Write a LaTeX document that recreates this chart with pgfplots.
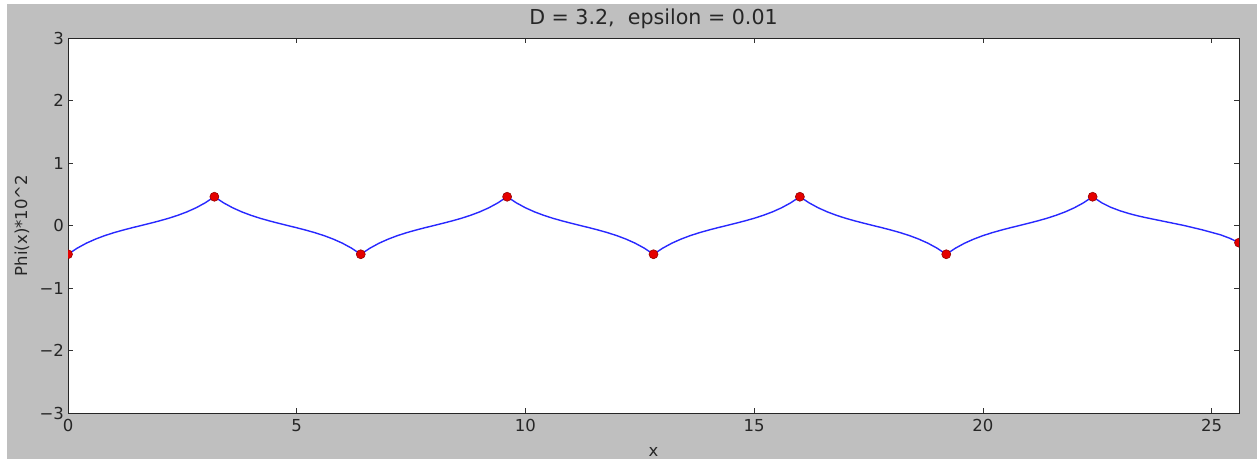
\documentclass[border=0pt]{standalone}
\usepackage{fontspec}
\setmainfont{DejaVu Sans}
\usepackage{pgfplots}
\pgfplotsset{compat=1.18}
\definecolor{figgray}{RGB}{191,191,191}
\definecolor{mplblue}{RGB}{40,40,255}
\definecolor{dotedge}{RGB}{150,0,0}
\begin{document}
\begin{tikzpicture}
\path[use as bounding box] (0,0) rectangle (1257bp,461bp);
\fill[figgray] (7bp,2bp) rectangle (1257bp,457bp);
\begin{axis}[
  at={(68bp,48bp)}, anchor=south west,
  scale only axis, width=1171bp, height=375bp,
  xmin=0, xmax=25.6, ymin=-3, ymax=3,
  clip marker paths=true,
  axis background/.style={fill=white},
  axis line style={line width=1bp, black!85},
  every tick/.style={black!80, line width=0.7bp},
  major tick length=5bp,
  tick align=inside,
  xtick={0,5,10,15,20,25},
  xticklabels={0,5,10,15,20,25},
  ytick={-3,-2,-1,0,1,2,3},
  yticklabels={−3,−2,−1,0,1,2,3},
  ticklabel style={font=\fontsize{16.5bp}{19bp}\selectfont, text=black!85},
  xticklabel style={yshift=-3bp},
  yticklabel style={xshift=-0.5bp},
  title={D = 3.2,\ \ epsilon = 0.01},
  title style={font=\fontsize{20.6bp}{24bp}\selectfont, text=black!85, at={(axis description cs:0.5,1.0213)}, anchor=base},
  xlabel={x},
  xlabel style={font=\fontsize{16.5bp}{19bp}\selectfont, text=black!85, at={(axis description cs:0.5,-0.1173)}, anchor=base},
  ylabel={Phi(x)*10\^{}2},
  ylabel style={font=\fontsize{16.5bp}{19bp}\selectfont, text=black!85, at={(axis description cs:-0.0393,0.5)}, anchor=center},
]
\addplot[mplblue, line width=1.4bp, no marks] coordinates {
(0,-0.46)(0.2,-0.363)(0.4,-0.2835)(0.6,-0.2179)(0.8,-0.1628)(1,-0.1156)(1.2,-0.0741)(1.4,-0.0362)(1.6,0)(1.8,0.0362)(2,0.0741)(2.2,0.1156)(2.4,0.1628)(2.6,0.2179)(2.8,0.2835)(3,0.363)(3.2,0.46)
(3.4,0.363)(3.6,0.2835)(3.8,0.2179)(4,0.1628)(4.2,0.1156)(4.4,0.0741)(4.6,0.0362)(4.8,0)(5,-0.0362)(5.2,-0.0741)(5.4,-0.1156)(5.6,-0.1628)(5.8,-0.2179)(6,-0.2835)(6.2,-0.363)(6.4,-0.46)
(6.6,-0.363)(6.8,-0.2835)(7,-0.2179)(7.2,-0.1628)(7.4,-0.1156)(7.6,-0.0741)(7.8,-0.0362)(8,0)(8.2,0.0362)(8.4,0.0741)(8.6,0.1156)(8.8,0.1628)(9,0.2179)(9.2,0.2835)(9.4,0.363)(9.6,0.46)
(9.8,0.363)(10,0.2835)(10.2,0.2179)(10.4,0.1628)(10.6,0.1156)(10.8,0.0741)(11,0.0362)(11.2,0)(11.4,-0.0362)(11.6,-0.0741)(11.8,-0.1156)(12,-0.1628)(12.2,-0.2179)(12.4,-0.2835)(12.6,-0.363)(12.8,-0.46)
(13,-0.363)(13.2,-0.2835)(13.4,-0.2179)(13.6,-0.1628)(13.8,-0.1156)(14,-0.0741)(14.2,-0.0362)(14.4,0)(14.6,0.0362)(14.8,0.0741)(15,0.1156)(15.2,0.1628)(15.4,0.2179)(15.6,0.2835)(15.8,0.363)(16,0.46)
(16.2,0.363)(16.4,0.2835)(16.6,0.2179)(16.8,0.1628)(17,0.1156)(17.2,0.0741)(17.4,0.0362)(17.6,0)(17.8,-0.0362)(18,-0.0741)(18.2,-0.1156)(18.4,-0.1628)(18.6,-0.2179)(18.8,-0.2835)(19,-0.363)(19.2,-0.46)
(19.4,-0.363)(19.6,-0.2835)(19.8,-0.2179)(20,-0.1628)(20.2,-0.1156)(20.4,-0.0741)(20.6,-0.0362)(20.8,0)(21,0.0362)(21.2,0.0741)(21.4,0.1156)(21.6,0.1628)(21.8,0.2179)(22,0.2835)(22.2,0.363)(22.4,0.46)
(22.6,0.363)(22.8,0.29)(23,0.235)(23.2,0.19)(23.4,0.152)(23.6,0.12)(23.8,0.09)(24,0.06)(24.2,0.03)(24.4,0)(24.6,-0.035)(24.8,-0.07)(25,-0.11)(25.2,-0.15)(25.4,-0.205)(25.6,-0.275)
};
\addplot[only marks, mark=*, mark size=4.5bp, mark options={fill=red!90!black, draw=dotedge, line width=0.6bp}] coordinates {
(0,-0.46)(3.2,0.46)(6.4,-0.46)(9.6,0.46)(12.8,-0.46)(16,0.46)(19.2,-0.46)(22.4,0.46)(25.6,-0.275)
};
\end{axis}
\end{tikzpicture}
\end{document}
